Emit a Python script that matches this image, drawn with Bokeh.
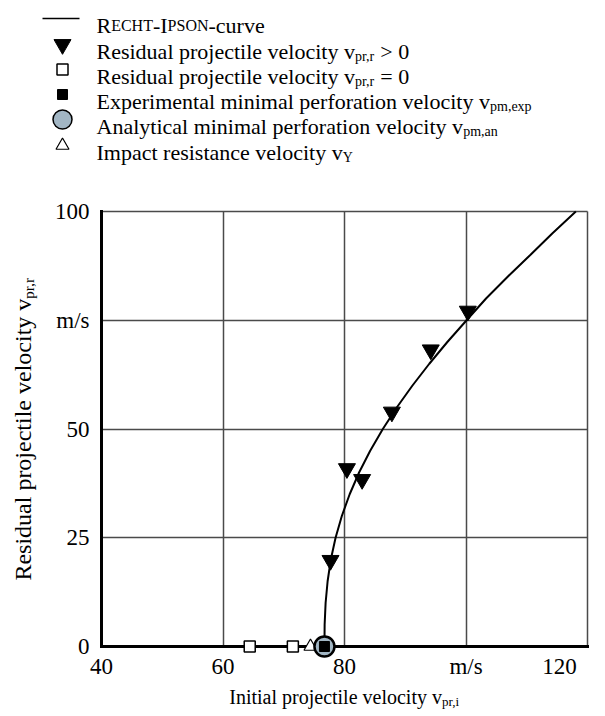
import math
from bokeh.plotting import figure
from bokeh.models import Range1d, FixedTicker, ColumnDataSource, Grid
from bokeh.embed import file_html
from bokeh.resources import INLINE
from bokeh.core.properties import value

FONT = "Liberation Serif"

# ---------------- data ----------------
# Recht-Ipson curve, points
curve_vi = [76.70, 76.73, 76.89, 77.22, 77.75, 78.53, 79.56, 80.85, 82.40, 84.23, 86.31,
            88.63, 91.19, 93.96, 96.93, 100.10, 103.30, 106.86, 110.58, 114.24, 118.08]
curve_vr = [0, 5, 10, 15, 20, 25, 30, 35, 40, 45, 50, 55, 60, 65, 70, 75, 80, 85, 90, 95, 100]

# residual projectile velocity > 0
perf_vi = [77.7, 80.4, 82.9, 87.8, 94.2, 100.3]
perf_vr = [19.8, 40.9, 38.4, 53.9, 68.2, 77.1]

# residual projectile velocity = 0
stop_vi = [64.4, 71.5]
stop_vr = [0, 0]

# experimental / analytical minimal perforation velocity, impact resistance velocity
vpm_exp_vi = [76.7]
vpm_exp_vr = [0]
vpm_an_vi = [76.7]
vpm_an_vr = [0]
vY_vi = [74.4]
vY_vr = [0]

x_ticks = [40, 60, 80, 100, 120]
x_tick_labels = ["40", "60", "80", "m/s", "120"]
y_ticks = [0, 25, 50, 75, 100]
y_tick_labels = ["0", "25", "50", "m/s", "100"]

# ---------------- text width helper (Times metrics) ----------------
W = {' ': 250, ',': 250, '-': 333, '.': 250, '/': 278, '=': 564, '>': 564,
     'A': 722, 'B': 667, 'C': 667, 'D': 722, 'E': 611, 'F': 556, 'G': 722, 'H': 722,
     'I': 333, 'J': 389, 'K': 722, 'L': 611, 'M': 889, 'N': 722, 'O': 722, 'P': 556,
     'Q': 722, 'R': 667, 'S': 556, 'T': 611, 'U': 722, 'V': 722, 'W': 944, 'X': 722,
     'Y': 722, 'Z': 611,
     'a': 444, 'b': 500, 'c': 444, 'd': 500, 'e': 444, 'f': 333, 'g': 500, 'h': 500,
     'i': 278, 'j': 278, 'k': 500, 'l': 278, 'm': 778, 'n': 500, 'o': 500, 'p': 500,
     'q': 500, 'r': 333, 's': 389, 't': 278, 'u': 500, 'v': 500, 'w': 722, 'x': 500,
     'y': 500, 'z': 444}


def tw(s, size):
    return sum(W.get(c, 500) for c in s) / 1000.0 * size


# ---------------- page geometry: plot area in page pixels ----------------
PW, PH = 605, 716
PX0, PX1 = 101, 587      # x = 40 .. 120
PY0, PY1 = 646, 211      # y = 0 .. 100
SX = (PX1 - PX0) / 80.0
SY = (PY0 - PY1) / 100.0


def X(px):
    return 40 + (px - PX0) / SX


def Y(py):
    return (PY0 - py) / SY


p = figure(width=PW, height=PH, x_range=Range1d(X(0), X(PW)), y_range=Range1d(Y(PH), Y(0)),
           output_backend="svg", toolbar_location=None, min_border=0)
p.outline_line_color = None
p.background_fill_color = "white"
p.border_fill_color = "white"

TICK_FS = "23px"
NB = "\u00a0"
for ax, ticks, labels in ((p.xaxis[0], x_ticks, x_tick_labels), (p.yaxis[0], y_ticks, y_tick_labels)):
    ax.ticker = FixedTicker(ticks=ticks)
    ax.axis_line_width = 3
    ax.axis_line_color = "black"
    ax.axis_line_cap = "square"
    ax.major_tick_line_color = None
    ax.minor_tick_line_color = None
    ax.major_label_text_font = FONT
    ax.major_label_text_font_size = TICK_FS
    ax.major_label_text_color = "black"
# last x label sits inside the plot width, as in the reference
p.xaxis.major_label_overrides = {t: (l + NB * 5 if t == x_ticks[-1] else l)
                                 for t, l in zip(x_ticks, x_tick_labels)}
p.yaxis.major_label_overrides = {t: l for t, l in zip(y_ticks, y_tick_labels)}
p.xaxis.major_label_standoff = 1
p.yaxis.major_label_standoff = 6
p.xaxis.fixed_location = 0
p.yaxis.fixed_location = 40
p.xaxis.bounds = (40, 120)
p.yaxis.bounds = (0, 100)

for g, ticks in ((p.xgrid[0], x_ticks), (p.ygrid[0], y_ticks)):
    g.ticker = FixedTicker(ticks=ticks)
    g.grid_line_color = "#4a4a4a"
    g.grid_line_width = 1.5
if "cross_bounds" in Grid.properties():
    p.xgrid.cross_bounds = (0, 100)
    p.ygrid.cross_bounds = (40, 120)

# ---------------- data marks ----------------
p.line(curve_vi, curve_vr, line_color="black", line_width=2)
p.scatter(perf_vi, perf_vr, marker="inverted_triangle", size=17,
          fill_color="black", line_color="black")
p.scatter(stop_vi, stop_vr, marker="square", size=11, fill_color="white",
          line_color="black", line_width=1.5, level="overlay")
p.scatter(vY_vi, vY_vr, marker="triangle", size=13, fill_color="white",
          line_color="black", line_width=1.2, level="overlay")
p.scatter(vpm_an_vi, vpm_an_vr, marker="circle", size=20, fill_color="#a2b6c4",
          line_color="black", line_width=2.5, level="overlay")
p.scatter(vpm_exp_vi, vpm_exp_vr, marker="square", size=10, fill_color="black",
          line_color="black", level="overlay")


# ---------------- texts (page-pixel layout converted to data space) ----------------
def put_text(items, angle=0.0):
    p.text(x="x", y="y", text="t", text_font_size="s", text_font=value(FONT),
           text_baseline="alphabetic", text_align="left", text_color="black", angle=angle,
           source=ColumnDataSource(dict(x=[X(i[0]) for i in items], y=[Y(i[1]) for i in items],
                                        t=[i[2] for i in items], s=[f"{i[3]}px" for i in items])))


def runs(parts, x, base):
    """lay out (text, size, dy) parts horizontally, starting at page x, baseline base"""
    out = []
    for t, size, dy in parts:
        lead = len(t) - len(t.lstrip(" "))
        x += tw(" " * lead, size)
        t = t.lstrip(" ")
        out.append((x, base + dy, t, size))
        x += tw(t, size)
    return out


# legend
LM, LS, LSC, LDY = 22, 14, 16, 5
rows = [
    [("R", LM, 0), ("ECHT", LSC, 0), ("-", LM, 0), ("I", LM, 0), ("PSON", LSC, 0), ("-curve", LM, 0)],
    [("Residual projectile velocity v", LM, 0), ("pr,r", LS, LDY), (" > 0", LM, 0)],
    [("Residual projectile velocity v", LM, 0), ("pr,r", LS, LDY), (" = 0", LM, 0)],
    [("Experimental minimal perforation velocity v", LM, 0), ("pm,exp", LS, LDY)],
    [("Analytical minimal perforation velocity v", LM, 0), ("pm,an", LS, LDY)],
    [("Impact resistance velocity v", LM, 0), ("Y", LS, LDY)],
]
row_center = [18, 44, 69, 94, 119, 145]
TEXT_X = 96
KEY_X = 62
items = []
for r, c in zip(rows, row_center):
    items += runs(r, TEXT_X, c + 7)
put_text(items)

p.line([X(KEY_X - 20), X(KEY_X + 17)], [Y(row_center[0])] * 2, line_color="black", line_width=1.5)
p.scatter([X(KEY_X)], [Y(row_center[1])], marker="inverted_triangle", size=17,
          fill_color="black", line_color="black")
p.scatter([X(KEY_X)], [Y(row_center[2])], marker="square", size=11,
          fill_color="white", line_color="black", line_width=1.5)
p.scatter([X(KEY_X)], [Y(row_center[3])], marker="square", size=10,
          fill_color="black", line_color="black")
p.scatter([X(KEY_X)], [Y(row_center[4])], marker="circle", size=19,
          fill_color="#a2b6c4", line_color="black", line_width=1.5)
p.scatter([X(KEY_X)], [Y(row_center[5])], marker="triangle", size=13,
          fill_color="white", line_color="black", line_width=1.2)

# x title
XT, XS = 20, 13
xparts = [("Initial projectile velocity v", XT, 0), ("pr,i", XS, 5)]
tot = sum(tw(t, s) for t, s, _ in xparts)
put_text(runs(xparts, (PX0 + PX1) / 2 - tot / 2, 696))

# y title (rotated, reading upwards)
YT, YS = 24, 15
ym, ysub = "Residual projectile velocity v", "pr,r"
tot = tw(ym, YT) + tw(ysub, YS)
cy = (PY0 + PY1) / 2
bx = 22
p.text(x=[X(bx), X(bx + 6)], y=[Y(cy + tot / 2), Y(cy + tot / 2 - tw(ym, YT))],
       text=[ym, ysub], text_font_size=[f"{YT}px", f"{YS}px"], text_font=value(FONT),
       text_baseline="alphabetic", text_align="left", text_color="black", angle=math.pi / 2)

open("out.html", "w").write(file_html(p, INLINE))
